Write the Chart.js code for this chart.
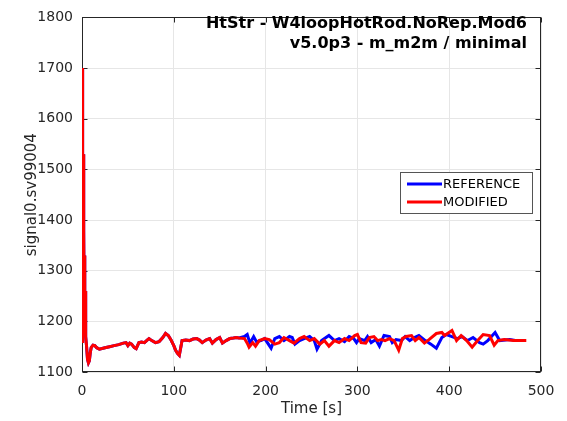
<!DOCTYPE html>
<html><head><meta charset="utf-8">
<script src="https://cdn.jsdelivr.net/npm/chart.js@4"></script>
<style>html,body{margin:0;padding:0;background:#fff}#wrap{width:567px;height:421px}</style>
</head><body><div id="wrap"><canvas id="c" width="567" height="421"></canvas></div>
<script>
const chartTitle = ['HtStr - W4loopHotRod.NoRep.Mod6', 'v5.0p3 - m_m2m / minimal'];
const seriesNames = ['REFERENCE', 'MODIFIED'];
const xAxisLabel = 'Time [s]';
const yAxisLabel = 'signal0.sv99004';
const xTicks = [0, 100, 200, 300, 400, 500];
const yTicks = [1100, 1200, 1300, 1400, 1500, 1600, 1700, 1800];

// common start (both runs identical here)
const startTime = [0, 0.3, 0.7, 1.0, 1.3, 1.7, 2.0, 2.4, 2.8, 3.2, 3.6, 4.0, 5, 6, 7, 8, 9, 10, 12, 14, 16, 19, 25, 30, 35, 40, 45, 48, 50, 52, 54, 57, 59, 62, 65, 68, 71, 73, 76, 80, 84, 88, 91, 94, 97, 100, 102, 104, 106, 109, 113, 117, 121, 125, 128, 131, 135, 139, 142, 146, 150, 153, 157, 161, 165, 168, 171];
const startSignal = [1160, 1700, 1560, 1420, 1530, 1300, 1380, 1220, 1330, 1180, 1260, 1170, 1150, 1125, 1118, 1122, 1138, 1148, 1153, 1152, 1148, 1145, 1148, 1150, 1152, 1154, 1157, 1158, 1152, 1157, 1155, 1148, 1146, 1158, 1159, 1158, 1163, 1166, 1162, 1158, 1160, 1168, 1176, 1172, 1163, 1152, 1143, 1137, 1133, 1162, 1163, 1162, 1165, 1166, 1163, 1158, 1163, 1166, 1157, 1164, 1168, 1157, 1162, 1166, 1167, 1168, 1167];

const refTailTime = [177, 180, 183, 187, 190, 195, 199, 206, 210, 215, 220, 226, 229, 232, 237, 242, 248, 253, 256, 261, 269, 275, 280, 286, 291, 296, 299, 302, 308, 311, 315, 320, 324, 329, 335, 338, 342, 348, 352, 357, 362, 367, 374, 380, 386, 392, 397, 403, 409, 414, 420, 426, 433, 437, 442, 447, 450, 455, 466, 472];
const refTailSignal = [1170, 1174, 1157, 1170, 1160, 1162, 1166, 1147, 1166, 1170, 1162, 1170, 1168, 1155, 1162, 1166, 1170, 1162, 1145, 1162, 1172, 1162, 1166, 1160, 1170, 1166, 1158, 1166, 1162, 1170, 1158, 1164, 1151, 1172, 1170, 1158, 1164, 1162, 1170, 1162, 1168, 1172, 1162, 1155, 1147, 1168, 1174, 1170, 1166, 1170, 1162, 1168, 1158, 1155, 1162, 1172, 1178, 1162, 1164, 1162];

const modTailTime = [177, 180, 182, 186, 189, 193, 199, 204, 210, 215, 220, 226, 231, 237, 242, 248, 253, 259, 264, 269, 275, 280, 286, 291, 297, 300, 304, 309, 313, 318, 322, 326, 330, 335, 340, 345, 349, 353, 359, 363, 367, 373, 378, 386, 392, 395, 403, 408, 413, 419, 425, 431, 437, 444, 449, 453, 460, 470, 484];
const modTailSignal = [1166, 1157, 1149, 1158, 1151, 1162, 1166, 1164, 1155, 1158, 1168, 1162, 1157, 1166, 1170, 1162, 1166, 1155, 1162, 1151, 1162, 1158, 1166, 1162, 1172, 1174, 1158, 1157, 1168, 1170, 1162, 1164, 1162, 1166, 1162, 1143, 1166, 1170, 1172, 1162, 1168, 1157, 1164, 1176, 1178, 1172, 1182, 1162, 1172, 1162, 1149, 1162, 1174, 1172, 1153, 1162, 1164, 1162, 1162];

const refTime = startTime.concat(refTailTime);
const refSignal = startSignal.concat(refTailSignal);
const modTime = startTime.concat(modTailTime);
const modSignal = startSignal.concat(modTailSignal);

const seriesColors = ['#0000ff', '#ff0000'];
const axisColor = '#262626';
const FONT = 'DejaVu Sans';

const framePlugin = {
  id: 'frame',
  beforeDatasetsDraw(chart) {
    const {ctx, chartArea: a, scales: {x, y}} = chart;
    ctx.save();
    ctx.strokeStyle = axisColor;
    ctx.lineWidth = 1;
    const L = Math.round(a.left) + 0.5, R = Math.round(a.right) - 0.5;
    const T = Math.round(a.top) + 0.5, B = Math.round(a.bottom) - 0.5;
    ctx.strokeRect(L, T, R - L, B - T);
    ctx.beginPath();
    xTicks.forEach(v => {
      const px = Math.round(x.getPixelForValue(v)) + 0.5;
      ctx.moveTo(px, B); ctx.lineTo(px, B - 5);
      ctx.moveTo(px, T); ctx.lineTo(px, T + 5);
    });
    yTicks.forEach(v => {
      const py = Math.round(y.getPixelForValue(v)) + 0.5;
      ctx.moveTo(L, py); ctx.lineTo(L + 5, py);
      ctx.moveTo(R, py); ctx.lineTo(R - 5, py);
    });
    ctx.stroke();
    ctx.restore();
  },
  afterDraw(chart) {
    const {ctx} = chart;
    ctx.save();
    // title inside plot
    ctx.fillStyle = '#000';
    ctx.font = 'bold 16px "' + FONT + '"';
    ctx.textAlign = 'right';
    ctx.textBaseline = 'middle';
    ctx.fillText(chartTitle[0], 527, 24);
    ctx.fillText(chartTitle[1], 527, 44);
    // legend box
    const bx = 400, by = 172, bw = 132, bh = 41;
    ctx.fillStyle = '#fff';
    ctx.fillRect(bx, by, bw, bh);
    ctx.strokeStyle = '#555';
    ctx.lineWidth = 1;
    ctx.strokeRect(bx + 0.5, by + 0.5, bw, bh);
    ctx.font = '13px "' + FONT + '"';
    ctx.textAlign = 'left';
    ctx.fillStyle = '#000';
    chart.data.datasets.forEach((ds, i) => {
      const yy = by + 12 + i * 18;
      ctx.strokeStyle = ds.borderColor;
      ctx.lineWidth = 3;
      ctx.beginPath();
      ctx.moveTo(bx + 7, yy); ctx.lineTo(bx + 42, yy);
      ctx.stroke();
      ctx.fillText(ds.label, bx + 43, yy + 1);
    });
    ctx.restore();
  }
};

new Chart(document.getElementById('c'), {
  type: 'line',
  data: {
    datasets: [
      {label: seriesNames[0], data: refTime.map((t, i) => ({x: t, y: refSignal[i]})), borderColor: seriesColors[0], borderWidth: 3, pointRadius: 0, tension: 0, fill: false, order: 1},
      {label: seriesNames[1], data: modTime.map((t, i) => ({x: t, y: modSignal[i]})), borderColor: seriesColors[1], borderWidth: 3, pointRadius: 0, tension: 0, fill: false, order: 0}
    ]
  },
  options: {
    responsive: false,
    animation: false,
    devicePixelRatio: 1,
    layout: {padding: {left: 0, right: 26, top: 13, bottom: 0}},
    plugins: {legend: {display: false}, tooltip: {enabled: false}, title: {display: false}},
    scales: {
      x: {
        type: 'linear', min: 0, max: 500,
        afterBuildTicks: s => { s.ticks = xTicks.map(v => ({value: v})); },
        afterFit: s => { s.height = 49; },
        grid: {color: '#e6e6e6', drawTicks: false},
        border: {display: false},
        ticks: {color: axisColor, font: {family: FONT, size: 14}, padding: 11, maxRotation: 0, callback: v => String(v)},
        title: {display: true, text: xAxisLabel, color: axisColor, font: {family: FONT, size: 15}, padding: {top: 0, bottom: 3}}
      },
      y: {
        type: 'linear', min: 1100, max: 1800,
        afterBuildTicks: s => { s.ticks = yTicks.map(v => ({value: v})); },
        afterFit: s => { s.width = 82; },
        grid: {color: '#e6e6e6', drawTicks: false},
        border: {display: false},
        ticks: {color: axisColor, font: {family: FONT, size: 14}, padding: 9, callback: v => String(v)},
        title: {display: true, text: yAxisLabel, color: axisColor, font: {family: FONT, size: 15}, padding: {top: 23, bottom: 0}}
      }
    }
  },
  plugins: [framePlugin]
});
</script>
</body></html>
